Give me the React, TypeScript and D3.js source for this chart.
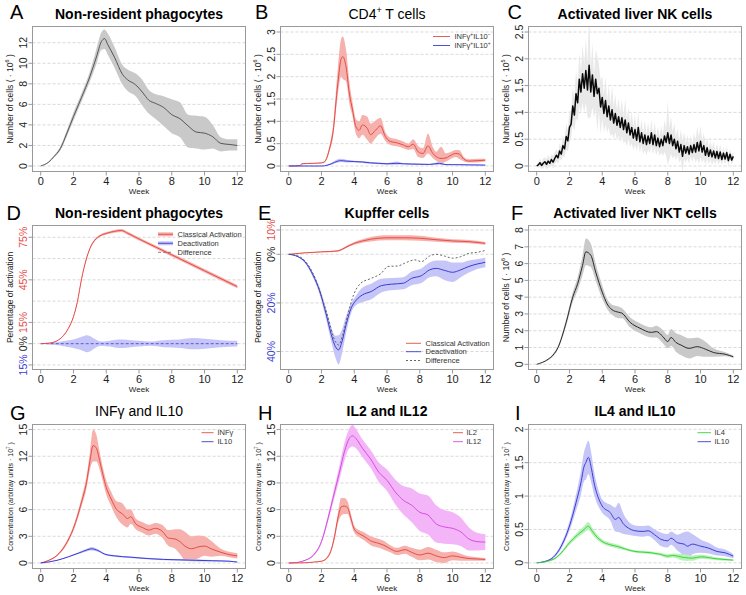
import React from 'react';
import * as d3 from 'd3';

// ---------------- DATA ----------------
const weekTicks = [0, 2, 4, 6, 8, 10, 12];

// A: Non-resident phagocytes (x10^6)
const aWeek = [0,0.5,0.8,1.2,1.6,2,2.5,3,3.4,3.7,3.9,4.1,4.5,5,5.3,5.8,6.2,6.6,7,7.5,8,8.5,9,9.5,10,10.5,11,11.5,12];
const aMean = [0,0.4,0.9,1.7,3.2,4.8,6.7,8.7,10.6,12.1,12.4,11.8,10.6,8.9,8.4,7.9,7.2,6.4,6.1,5.7,5.0,4.6,3.9,3.3,3.2,2.85,2.2,2.1,2.0];
const aLo = [0,0.35,0.8,1.5,2.9,4.4,6.3,8.2,9.9,11.3,11.4,10.8,9.6,7.9,7.3,6.8,5.9,5.1,4.6,3.9,3.2,2.8,1.8,1.7,1.6,1.7,1.4,1.5,1.5];
const aHi = [0,0.45,1.0,1.9,3.5,5.2,7.1,9.2,11.4,13.0,13.3,12.9,11.6,9.8,9.4,9.0,8.4,7.4,7.0,6.8,6.5,6.2,5.0,4.9,4.8,4.0,2.8,2.6,2.6];

// B: CD4+ T cells
const bWeek = [0,0.7,0.8,1.5,2,2.2,2.5,2.7,3,3.2,3.3,3.5,3.7,3.9,4.1,4.3,4.5,4.8,5,5.3,5.6,5.9,6.2,6.6,7,7.3,7.6,7.9,8.2,8.5,8.8,9,9.3,9.6,9.8,10.2,10.4,10.7,11,11.5,12];
const bRed = [0,0.01,0.05,0.06,0.07,0.1,0.4,0.75,1.85,2.4,2.45,2.22,1.63,1.25,0.88,0.8,0.92,0.84,0.7,0.8,0.9,0.66,0.55,0.52,0.47,0.43,0.49,0.32,0.28,0.45,0.28,0.21,0.17,0.18,0.22,0.28,0.27,0.15,0.11,0.12,0.13];
const bRedLo = [0,0.01,0.04,0.05,0.06,0.08,0.33,0.62,1.6,2.0,1.95,1.9,1.4,1.1,0.72,0.62,0.7,0.58,0.5,0.62,0.72,0.56,0.47,0.44,0.4,0.36,0.38,0.2,0.18,0.28,0.18,0.12,0.06,0.1,0.14,0.2,0.16,0.1,0.08,0.08,0.1];
const bRedHi = [0,0.01,0.06,0.07,0.08,0.12,0.47,0.88,2.2,2.85,2.9,2.6,1.9,1.42,1.05,1.0,1.14,1.1,0.95,1.02,1.08,0.76,0.63,0.6,0.55,0.5,0.6,0.45,0.4,0.73,0.42,0.32,0.43,0.28,0.3,0.36,0.36,0.2,0.15,0.16,0.16];
const bBlueWeek = [0,2,2.2,2.6,3,3.2,3.5,4,4.5,5,5.5,6,6.6,7,8,8.6,9.2,9.6,10,11,12];
const bBlue = [0,0,0.005,0.05,0.11,0.12,0.11,0.1,0.09,0.07,0.06,0.05,0.06,0.05,0.04,0.035,0.06,0.03,0.03,0.025,0.02];
const bBlueLo = [0,0,0.003,0.03,0.08,0.09,0.08,0.08,0.07,0.05,0.04,0.03,0.03,0.035,0.025,0.02,0.03,0.02,0.02,0.015,0.015];
const bBlueHi = [0,0,0.008,0.07,0.15,0.16,0.14,0.12,0.11,0.09,0.08,0.07,0.1,0.065,0.055,0.05,0.09,0.04,0.04,0.035,0.03];

// C: Activated liver NK cells (x10^5), sampled every 0.1 week
const cWeek = d3.range(121).map((i) => i / 10);
const cMean = [
  0.00,0.02,0.06,0.01,0.05,0.08,0.03,0.09,0.05,0.12,0.07,
  0.14,0.20,0.15,0.28,0.22,0.38,0.32,0.55,0.47,0.72,
  0.78,1.12,0.95,1.35,1.18,1.62,1.38,1.72,1.45,1.78,
  1.42,1.88,1.38,1.70,1.30,1.62,1.35,1.45,1.10,1.28,
  0.98,1.22,0.92,1.12,0.86,1.05,0.80,0.98,0.76,0.92,
  0.72,0.90,0.68,0.86,0.62,0.80,0.58,0.72,0.52,0.68,
  0.48,0.72,0.45,0.62,0.42,0.58,0.40,0.56,0.42,0.62,
  0.40,0.58,0.38,0.52,0.36,0.50,0.38,0.56,0.44,0.62,
  0.42,0.58,0.38,0.50,0.32,0.46,0.26,0.40,0.18,0.38,
  0.24,0.36,0.22,0.38,0.25,0.40,0.26,0.44,0.28,0.46,
  0.26,0.38,0.20,0.34,0.18,0.30,0.17,0.28,0.15,0.27,
  0.14,0.26,0.12,0.24,0.13,0.25,0.10,0.22,0.11,0.18,
];
const cSpread = [
  0.02,0.05,0.08,0.06,0.1,0.08,0.1,0.12,0.08,0.1,0.12,
  0.1,0.12,0.1,0.15,0.12,0.2,0.15,0.25,0.2,0.3,
  0.25,0.35,0.3,0.45,0.35,0.5,0.4,0.55,0.45,0.6,
  0.5,1.0,0.45,0.6,0.4,0.55,0.7,0.45,0.5,0.4,
  0.35,0.45,0.3,0.4,0.3,0.45,0.3,0.35,0.28,0.35,
  0.28,0.35,0.25,0.4,0.25,0.3,0.22,0.3,0.22,0.28,
  0.2,0.3,0.2,0.25,0.2,0.28,0.2,0.25,0.18,0.25,
  0.18,0.25,0.18,0.22,0.18,0.25,0.2,0.3,0.25,0.6,
  0.3,0.35,0.25,0.3,0.22,0.25,0.2,0.28,0.3,0.25,
  0.18,0.22,0.18,0.2,0.18,0.22,0.2,0.3,0.25,0.3,
  0.2,0.25,0.18,0.2,0.15,0.18,0.15,0.18,0.12,0.15,
  0.12,0.15,0.1,0.12,0.1,0.12,0.1,0.1,0.08,0.08,
];

// D: Non-resident phagocytes activation (%)
const dWeek = [0,0.57,0.98,1.38,1.69,2.0,2.24,2.5,2.77,3.0,3.3,3.62,4.03,4.5,4.94,5.25,6,7,8,9,10,11,12];
const dAct = [0,0.5,1.9,5.6,10.8,19,29.6,46,59,67,73,76,77.8,79.2,79.8,78.2,73.8,68.2,62.6,57,51.4,45.8,40.2];
const dActErr = [0,0.2,0.3,0.4,0.5,0.6,0.6,0.7,0.7,0.8,0.8,0.8,0.9,1,1,1,1.1,1.1,1.2,1.2,1.2,1.2,1.2];
const dDeactWeek = [0,0.5,1,1.5,2,2.3,2.6,2.8,3,3.2,3.5,3.7,4,4.2,4.6,5,5.5,6,6.7,7.5,8.5,9.3,10,11,12];
const dDeact = [0,0,0,0,0,0,0,0,0,0,0,0,0,0,0,0,0,0,0,0,0,0,0,0,0];
const dDeactErr = [0,0.5,1,2,3,4,5.2,6,5.5,4,2,1.5,1.8,2,2.8,3,2.5,2,1.5,2.5,3,4,3.5,2.5,2];

// E: Kupffer cells activation (%)
const eActWeek = [0,1,2,3,3.3,3.7,4,4.5,5,6,7,8,9,10,11,12];
const eAct = [0,0.6,1.0,1.4,2.2,3.6,4.5,5.5,6.2,6.8,6.8,6.6,6.0,5.5,5.2,4.5];
const eActErr = [0,0.1,0.2,0.3,0.4,0.5,0.6,0.7,0.9,1.0,1.0,1.0,0.8,0.7,0.7,0.6];
const eDeactWeek = [0,0.57,0.98,1.48,1.9,2.3,2.6,2.85,3.05,3.25,3.5,3.82,4.13,4.5,5.04,5.65,6.26,7,7.5,8.1,8.6,9,9.5,10,10.5,11,11.5,12];
const eDeact = [0,-1,-3,-8.5,-15.3,-25,-33,-38,-39.3,-36,-29,-22,-18.8,-16.7,-15.3,-12.9,-12.3,-11.9,-9.9,-8.8,-6.4,-5.8,-6.6,-7.4,-6.4,-5,-4,-3.3];
const eDeactErr = [0,0.3,0.6,1,1.5,2.2,3,4.5,6,5,3.5,2,2,3,3.2,2.8,2.5,2.5,2.8,3,3,3.2,4,4,3,2.5,2,2];
const eDiffWeek = [0,0.57,1.48,2.3,2.85,3.05,3.3,3.6,3.96,4.4,5.04,5.65,6.06,6.67,7.07,7.69,8.1,8.6,9,9.5,10,10.5,11,11.5,12];
const eDiff = [0,-0.7,-7.8,-23.6,-35.9,-37.3,-33,-25,-16.7,-11.9,-9.9,-7.8,-5,-4.8,-3.7,-2.3,-3,-0.7,0,-0.7,-1.6,-1,0.4,0.8,1.6];

// F: Activated liver NKT cells (x10^6)
const fWeek = [0,0.7,1.0,1.3,1.8,2.2,2.5,2.8,3.0,3.3,3.6,4.0,4.3,4.6,5.0,5.2,5.7,6.3,7.0,7.3,7.7,8.0,8.2,8.5,8.8,9.3,9.8,10.3,10.8,11.5,12];
const fMean = [0,0.3,0.55,1.0,2.5,4.0,4.8,5.9,6.7,6.5,5.5,4.3,3.6,3.25,3.1,3.05,2.5,2.15,1.9,1.95,1.65,1.35,1.6,1.3,1.15,0.95,1.05,0.9,0.7,0.6,0.45];
const fErr = [0,0.05,0.08,0.1,0.2,0.3,0.4,0.6,0.8,0.7,0.5,0.4,0.3,0.3,0.35,0.3,0.3,0.3,0.3,0.35,0.4,0.4,0.5,0.55,0.6,0.6,0.55,0.45,0.25,0.12,0.08];

// G: INFγ and IL10 (x10^7)
const gInfWeek = [0,0.5,1,1.5,2,2.5,2.8,3.0,3.2,3.4,3.6,3.8,4.0,4.3,4.6,5.0,5.3,5.5,5.8,6.2,6.6,7.0,7.4,7.8,8.2,8.5,8.8,9.2,9.6,10,10.4,11,11.5,12];
const gInf = [0,0.3,0.86,2.0,3.9,6.9,9.1,11.4,13.2,12.9,11.5,9.9,8.5,7.2,6.1,5.5,5.0,5.2,4.4,4.0,3.7,3.9,3.6,2.8,2.7,2.4,1.9,1.6,1.8,1.9,1.6,1.2,0.95,0.8];
const gInfErr = [0,0.05,0.1,0.2,0.3,0.5,0.7,1.0,1.8,1.5,1.0,0.8,0.8,0.8,0.9,1.2,1.0,0.8,0.6,0.6,0.6,0.6,0.7,0.9,1.1,1.4,1.6,1.4,1.3,1.1,0.9,0.4,0.3,0.3];
const gIl10Week = [0,1,1.7,2.3,2.8,3.1,3.5,3.9,4.5,5.5,6.5,7.5,8.5,9.5,10.5,11.5,12];
const gIl10 = [0,0.3,0.7,1.1,1.45,1.6,1.4,1.0,0.8,0.65,0.5,0.4,0.35,0.3,0.25,0.2,0.1];
const gIl10Err = [0,0.03,0.06,0.1,0.15,0.2,0.15,0.1,0.1,0.08,0.08,0.08,0.1,0.12,0.08,0.06,0.05];

// H: IL2 and IL12 (x10^7)
const hIl12Week = [0,0.5,1,1.5,2,2.4,2.8,3.1,3.4,3.7,3.9,4.1,4.5,5.0,5.5,6.0,6.5,7.0,7.5,8.0,8.5,9.0,9.5,10,10.5,11,11.5,12];
const hIl12 = [0,0.05,0.3,0.86,2.4,5.0,8.0,10.2,12.5,14.0,14.3,14.0,12.9,11.7,10.2,9.3,8.0,7.05,6.5,5.7,5.4,4.4,4.05,3.9,3.5,2.7,2.4,2.35];
const hIl12Err = [0,0.02,0.05,0.1,0.2,0.4,0.6,0.8,1.0,1.1,1.2,1.1,1.0,1.0,1.1,1.2,1.4,1.6,1.9,2.1,2.2,2.1,1.9,1.8,1.6,1.3,1.0,0.9];
const hIl2Week = [0,1,1.5,2,2.3,2.6,2.8,3.0,3.2,3.4,3.6,3.8,4.0,4.3,4.6,5.0,5.5,5.8,6.2,6.6,7.1,7.5,8.0,8.5,9.0,9.5,10,10.5,11,11.5,12];
const hIl2 = [0,0.02,0.1,0.2,0.5,1.5,3.0,5.0,6.3,6.4,6.2,5.0,3.8,3.3,3.0,2.5,2.2,2.0,1.6,1.3,1.5,1.2,0.9,1.1,0.8,0.6,0.8,0.65,0.5,0.45,0.4];
const hIl2Err = [0,0.01,0.02,0.05,0.1,0.2,0.4,0.6,1.0,0.9,0.7,0.5,0.4,0.4,0.45,0.5,0.5,0.5,0.4,0.4,0.45,0.5,0.6,0.7,0.7,0.6,0.5,0.4,0.25,0.2,0.15];

// I: IL4 and IL10 (x10^7)
const iIl10Week = [0,0.5,1,1.5,2,2.4,2.7,2.9,3.0,3.15,3.35,3.5,3.8,4.0,4.5,4.8,5.0,5.3,5.6,6.0,6.5,6.8,7.2,7.6,8.0,8.2,8.6,9.0,9.2,9.5,10,10.5,11,11.5,12];
const iIl10 = [0,0.02,0.08,0.25,0.55,0.9,1.2,1.45,1.5,1.58,1.4,1.2,0.95,0.85,0.75,0.65,0.68,0.58,0.52,0.48,0.47,0.48,0.42,0.35,0.33,0.37,0.3,0.28,0.25,0.28,0.25,0.22,0.17,0.15,0.1];
const iIl10Err = [0,0.01,0.02,0.04,0.07,0.12,0.18,0.22,0.25,0.25,0.22,0.18,0.12,0.1,0.12,0.18,0.22,0.15,0.1,0.08,0.08,0.08,0.08,0.1,0.1,0.1,0.12,0.18,0.22,0.15,0.1,0.08,0.06,0.05,0.03];
const iIl4Week = [0,1,1.5,2,2.5,2.9,3.15,3.4,3.7,4,4.5,5,5.5,6,6.5,7,7.5,8,8.3,9,9.5,10,11,12];
const iIl4 = [0,0.05,0.15,0.3,0.42,0.5,0.55,0.47,0.38,0.32,0.27,0.24,0.2,0.17,0.16,0.15,0.13,0.1,0.11,0.08,0.07,0.09,0.06,0.04];
const iIl4Err = [0,0.01,0.02,0.03,0.04,0.05,0.06,0.05,0.04,0.03,0.03,0.03,0.02,0.02,0.02,0.02,0.02,0.03,0.03,0.05,0.04,0.03,0.02,0.01];

// ---------------- STYLE ----------------
const RED = '#e34d47', RED_BAND = '#f6b1ad';
const BLUE = '#3b3bd6', BLUE_BAND = '#c5c5f7';
const MAG = '#d24ee0', MAG_BAND = '#f4b5f8';
const GREEN = '#3ad23a', GREEN_BAND = '#b9f2b9';
const GRAY_BAND = '#c9c9c9', BLACK = '#2a2a2a';
const TXT = '#222';
const FONT = 'Liberation Sans, Arial, Helvetica, sans-serif';

const COLS = [
  { l: 32.5, r: 245.5 },
  { l: 280.5, r: 493.5 },
  { l: 528.5, r: 741.5 },
];
const ROWS = [
  { t: 26.5, b: 171.5, title: 18.5, letter: 18.5 },
  { t: 225.5, b: 369.5, title: 217.5, letter: 219.5 },
  { t: 424.5, b: 568.5, title: 415.5, letter: 420 },
];

type Part = string | { sup: string };
type Series = {
  xs: number[]; ys: number[]; lo?: number[]; hi?: number[]; err?: number[];
  color: string; band?: string; width?: number; dash?: string; linear?: boolean;
};
type Tick = { v: number; label: string; color?: string };
type Legend = { label: Part[]; color: string; band?: string; dash?: string };
type PanelSpec = {
  col: number; row: number; letter: string; letterX: number;
  title: Part[]; bold: boolean; yDomain: [number, number];
  ticks: Tick[]; grid: number[]; ylabel: Part[]; ylabelSize: number; tickSize: number;
  series: Series[]; legend?: { x1: number; x2: number; tx: number; ys: number[]; items: Legend[] };
};

function Rich({ parts, size }: { parts: Part[]; size: number }) {
  const out: any[] = [];
  let shifted = false;
  parts.forEach((p, i) => {
    if (typeof p === 'string') {
      out.push(<tspan key={i} dy={shifted ? size * 0.4 : 0}>{p}</tspan>);
      shifted = false;
    } else {
      out.push(<tspan key={i} dy={-size * 0.4} fontSize={size * 0.65}>{p.sup}</tspan>);
      shifted = true;
    }
  });
  return <>{out}</>;
}

const numTicks = (vals: number[]): Tick[] => vals.map((v) => ({ v, label: String(v) }));

const cellsLabel = (e: string): Part[] => ['Number of cells ( · 10', { sup: e }, ' )'];
const concLabel: Part[] = ['Concentration (arbitray units · 10', { sup: '7' }, ' )'];

const panels: PanelSpec[] = [
  {
    col: 0, row: 0, letter: 'A', letterX: 10, title: ['Non-resident phagocytes'], bold: true,
    yDomain: [-0.535, 13.58], ticks: numTicks([0, 2, 4, 6, 8, 10, 12]), grid: [0, 2, 4, 6, 8, 10, 12],
    ylabel: cellsLabel('6'), ylabelSize: 8.5, tickSize: 10.5,
    series: [{ xs: aWeek, ys: aMean, lo: aLo, hi: aHi, color: '#555', band: GRAY_BAND }],
  },
  {
    col: 1, row: 0, letter: 'B', letterX: 255, title: ['CD4', { sup: '+' }, ' T cells'], bold: false,
    yDomain: [-0.123, 3.123], ticks: numTicks([0, 0.5, 1, 1.5, 2, 2.5, 3]), grid: [0, 0.5, 1, 1.5, 2, 2.5, 3],
    ylabel: cellsLabel('6'), ylabelSize: 8.5, tickSize: 10.5,
    series: [
      { xs: bWeek, ys: bRed, lo: bRedLo, hi: bRedHi, color: RED, band: RED_BAND },
      { xs: bBlueWeek, ys: bBlue, lo: bBlueLo, hi: bBlueHi, color: BLUE, band: BLUE_BAND },
    ],
    legend: {
      x1: 433, x2: 450, tx: 454.5, ys: [36.5, 45.5],
      items: [
        { label: ['INFγ', { sup: '+' }, 'IL10', { sup: '−' }], color: RED },
        { label: ['INFγ', { sup: '+' }, 'IL10', { sup: '+' }], color: BLUE },
      ],
    },
  },
  {
    col: 2, row: 0, letter: 'C', letterX: 507.5, title: ['Activated liver NK cells'], bold: true,
    yDomain: [-0.103, 2.603], ticks: numTicks([0, 0.5, 1, 1.5, 2, 2.5]), grid: [0, 0.5, 1, 1.5, 2, 2.5],
    ylabel: cellsLabel('5'), ylabelSize: 8.5, tickSize: 10.5,
    series: [{ xs: cWeek, ys: cMean, err: cSpread, color: '#0a0a0a', band: '#e9e9e9', linear: true, width: 1.5 }],
  },
  {
    col: 0, row: 1, letter: 'D', letterX: 6.5, title: ['Non-resident phagocytes'], bold: true,
    yDomain: [-18.2, 83.3],
    ticks: [
      { v: 75, label: '75%', color: RED }, { v: 45, label: '45%', color: RED },
      { v: 15, label: '15%', color: RED }, { v: 0, label: '0%', color: TXT },
      { v: -15, label: '15%', color: BLUE },
    ],
    grid: [75, 60, 45, 30, 15, 0, -15],
    ylabel: ['Percentage of activation'], ylabelSize: 8.5, tickSize: 10.5,
    series: [
      { xs: dDeactWeek, ys: dDeact, err: dDeactErr, color: BLUE, band: BLUE_BAND, width: 0.8, dash: '3,2' },
      { xs: dWeek, ys: dAct, err: dActErr, color: RED, band: RED_BAND },
    ],
    legend: {
      x1: 158, x2: 173, tx: 177.5, ys: [234.3, 243.3, 252.3],
      items: [
        { label: ['Classical Activation'], color: RED, band: RED_BAND },
        { label: ['Deactivation'], color: BLUE, band: BLUE_BAND },
        { label: ['Difference'], color: '#777', dash: '3,2' },
      ],
    },
  },
  {
    col: 1, row: 1, letter: 'E', letterX: 258, title: ['Kupffer cells'], bold: true,
    yDomain: [-47.4, 11.85],
    ticks: [
      { v: 10, label: '10%', color: RED }, { v: 0, label: '0%', color: TXT },
      { v: -20, label: '20%', color: BLUE }, { v: -40, label: '40%', color: BLUE },
    ],
    grid: [10, 0, -20, -40],
    ylabel: ['Percentage of activation'], ylabelSize: 8.5, tickSize: 10.5,
    series: [
      { xs: eActWeek, ys: eAct, err: eActErr, color: RED, band: RED_BAND },
      { xs: eDeactWeek, ys: eDeact, err: eDeactErr, color: BLUE, band: BLUE_BAND },
      { xs: eDiffWeek, ys: eDiff, color: '#555', dash: '2,2', width: 0.9 },
    ],
    legend: {
      x1: 406, x2: 421, tx: 425.5, ys: [343.3, 351.7, 360.5],
      items: [
        { label: ['Classical Activation'], color: RED },
        { label: ['Deactivation'], color: BLUE },
        { label: ['Difference'], color: '#555', dash: '2,2' },
      ],
    },
  },
  {
    col: 2, row: 1, letter: 'F', letterX: 511, title: ['Activated liver NKT cells'], bold: true,
    yDomain: [-0.31, 8.27], ticks: numTicks([0, 1, 2, 3, 4, 5, 6, 7, 8]), grid: [0, 1, 2, 3, 4, 5, 6, 7, 8],
    ylabel: cellsLabel('6'), ylabelSize: 8.5, tickSize: 10.5,
    series: [{ xs: fWeek, ys: fMean, err: fErr, color: BLACK, band: GRAY_BAND }],
  },
  {
    col: 0, row: 2, letter: 'G', letterX: 10, title: ['INFγ and IL10'], bold: false,
    yDomain: [-0.62, 15.57], ticks: numTicks([0, 3, 6, 9, 12, 15]), grid: [0, 3, 6, 9, 12, 15],
    ylabel: concLabel, ylabelSize: 7, tickSize: 10.5,
    series: [
      { xs: gInfWeek, ys: gInf, err: gInfErr, color: RED, band: RED_BAND },
      { xs: gIl10Week, ys: gIl10, err: gIl10Err, color: BLUE, band: BLUE_BAND },
    ],
    legend: {
      x1: 201.5, x2: 213.5, tx: 217.5, ys: [432.7, 441.7],
      items: [
        { label: ['INFγ'], color: RED },
        { label: ['IL10'], color: BLUE },
      ],
    },
  },
  {
    col: 1, row: 2, letter: 'H', letterX: 258, title: ['IL2 and IL12'], bold: true,
    yDomain: [-0.62, 15.57], ticks: numTicks([0, 3, 6, 9, 12, 15]), grid: [0, 3, 6, 9, 12, 15],
    ylabel: concLabel, ylabelSize: 7, tickSize: 10.5,
    series: [
      { xs: hIl12Week, ys: hIl12, err: hIl12Err, color: MAG, band: MAG_BAND },
      { xs: hIl2Week, ys: hIl2, err: hIl2Err, color: RED, band: RED_BAND },
    ],
    legend: {
      x1: 453, x2: 463, tx: 466.5, ys: [432.7, 441.7],
      items: [
        { label: ['IL2'], color: RED },
        { label: ['IL12'], color: MAG },
      ],
    },
  },
  {
    col: 2, row: 2, letter: 'I', letterX: 515, title: ['IL4 and IL10'], bold: true,
    yDomain: [-0.085, 2.072], ticks: numTicks([0, 0.5, 1, 1.5, 2]), grid: [0, 0.5, 1, 1.5, 2],
    ylabel: concLabel, ylabelSize: 7, tickSize: 10.5,
    series: [
      { xs: iIl10Week, ys: iIl10, err: iIl10Err, color: BLUE, band: BLUE_BAND },
      { xs: iIl4Week, ys: iIl4, err: iIl4Err, color: GREEN, band: GREEN_BAND },
    ],
    legend: {
      x1: 697.5, x2: 711, tx: 714.5, ys: [432.7, 441.7],
      items: [
        { label: ['IL4'], color: GREEN },
        { label: ['IL10'], color: BLUE },
      ],
    },
  },
];

function Panel({ p, idx }: { p: PanelSpec; idx: number }) {
  const col = COLS[p.col];
  const row = ROWS[p.row];
  const x = d3.scaleLinear().domain([-0.5, 12.5]).range([col.l, col.r]);
  const y = d3.scaleLinear().domain(p.yDomain).range([row.b, row.t]);
  const cx = (col.l + col.r) / 2;
  const cy = (row.t + row.b) / 2;
  const clipId = `clip-${idx}`;

  const bandOf = (s: Series) => {
    const lo = (i: number) => (s.lo ? s.lo[i] : s.ys[i] - (s.err ? s.err[i] : 0));
    const hi = (i: number) => (s.hi ? s.hi[i] : s.ys[i] + (s.err ? s.err[i] : 0));
    return d3.area<number>()
      .x((i) => x(s.xs[i]))
      .y0((i) => y(lo(i)))
      .y1((i) => y(hi(i)))
      .curve(s.linear ? d3.curveLinear : d3.curveMonotoneX)(d3.range(s.xs.length)) || '';
  };
  const lineOf = (s: Series) =>
    d3.line<number>()
      .x((i) => x(s.xs[i]))
      .y((i) => y(s.ys[i]))
      .curve(s.linear ? d3.curveLinear : d3.curveMonotoneX)(d3.range(s.xs.length)) || '';

  return (
    <g>
      <defs>
        <clipPath id={clipId}>
          <rect x={col.l} y={row.t} width={col.r - col.l} height={row.b - row.t} />
        </clipPath>
      </defs>
      {p.grid.map((g) => (
        <line key={'g' + g} x1={col.l} x2={col.r} y1={y(g)} y2={y(g)}
          stroke="#cfcfcf" strokeWidth={0.8} strokeDasharray="3,2" />
      ))}
      <g clipPath={`url(#${clipId})`}>
        {p.series.filter((s) => s.band).map((s, i) => (
          <path key={'b' + i} d={bandOf(s)} fill={s.band} stroke="none" />
        ))}
        {p.series.map((s, i) => (
          <path key={'l' + i} d={lineOf(s)} fill="none" stroke={s.color}
            strokeWidth={s.width ?? 1} strokeDasharray={s.dash} strokeLinejoin="round" />
        ))}
      </g>
      <rect x={col.l} y={row.t} width={col.r - col.l} height={row.b - row.t}
        fill="none" stroke="#999" strokeWidth={1} />
      {weekTicks.map((w) => (
        <g key={'x' + w}>
          <line x1={x(w)} x2={x(w)} y1={row.b} y2={row.b + 4} stroke="#999" />
          <text x={x(w)} y={row.b + 13.5} textAnchor="middle" fontSize={11}
            fontFamily={FONT} fill={TXT}>{w}</text>
        </g>
      ))}
      {p.ticks.map((t) => (
        <g key={'y' + t.v}>
          <line x1={col.l - 4} x2={col.l} y1={y(t.v)} y2={y(t.v)} stroke="#999" />
          <text transform={`translate(${col.l - 6},${y(t.v)}) rotate(-90)`} textAnchor="middle"
            fontSize={t.label.includes('%') ? 10.5 : p.tickSize} fontFamily={FONT} fill={t.color ?? TXT}>
            {t.label}
          </text>
        </g>
      ))}
      <text x={cx} y={row.b + 22} textAnchor="middle" fontSize={8} fontFamily={FONT} fill={TXT}>Week</text>
      <text transform={`translate(${col.l - 20},${cy}) rotate(-90)`} textAnchor="middle"
        fontSize={p.ylabelSize} fontFamily={FONT} fill={TXT}>
        <Rich parts={p.ylabel} size={p.ylabelSize} />
      </text>
      <text x={cx} y={row.title} textAnchor="middle" fontSize={14}
        fontWeight={p.bold ? 'bold' : 'normal'} fontFamily={FONT} fill="#000">
        <Rich parts={p.title} size={14} />
      </text>
      <text x={p.letterX} y={row.letter} fontSize={20} fontFamily={FONT} fill="#000">{p.letter}</text>
      {p.legend && p.legend.items.map((it, i) => {
        const ly = p.legend!.ys[i];
        return (
          <g key={'lg' + i}>
            {it.band && (
              <line x1={p.legend!.x1} x2={p.legend!.x2} y1={ly} y2={ly} stroke={it.band} strokeWidth={4} />
            )}
            <line x1={p.legend!.x1} x2={p.legend!.x2} y1={ly} y2={ly} stroke={it.color}
              strokeWidth={0.9} strokeDasharray={it.dash} />
            <text x={p.legend!.tx} y={ly + 2.7} fontSize={7.5} fontFamily={FONT} fill="#333">
              <Rich parts={it.label} size={7.5} />
            </text>
          </g>
        );
      })}
    </g>
  );
}

export default function App() {
  return (
    <svg width={746} height={595} viewBox="0 0 746 595"
      style={{ position: 'absolute', left: 0, top: 0, background: '#fff' }}>
      <rect x={0} y={0} width={746} height={595} fill="#fff" />
      {panels.map((p, i) => (
        <Panel key={i} p={p} idx={i} />
      ))}
    </svg>
  );
}
